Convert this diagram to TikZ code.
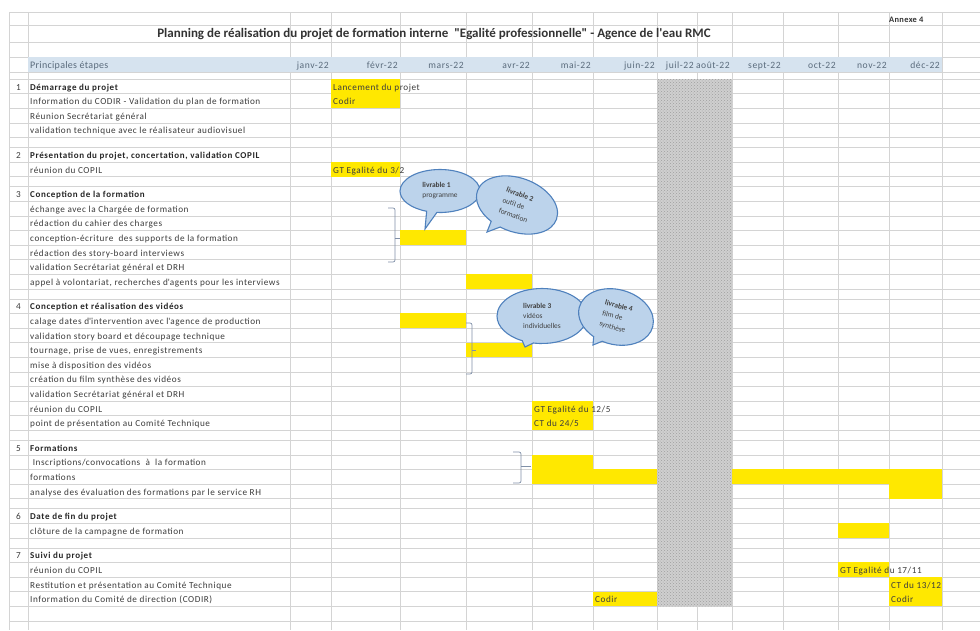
\documentclass[tikz,border=0pt]{standalone}
\usepackage{fontspec}
\setmainfont{Carlito}
\usetikzlibrary{shapes.callouts,patterns}
\definecolor{cellgrid}{HTML}{D4D4D4}
\definecolor{headband}{HTML}{D6E3EF}
\definecolor{headtext}{HTML}{5A6B7C}
\definecolor{baryellow}{HTML}{FFE800}
\definecolor{bubblefill}{HTML}{BCD3EB}
\definecolor{bubbleline}{HTML}{4F81BD}
\definecolor{bracegray}{HTML}{8090A8}
\definecolor{inktext}{HTML}{3C3C3C}

\begin{document}
\begin{tikzpicture}[x=1pt,y=-1pt,
	task/.style={anchor=base west,inner sep=0pt,text=inktext,font=\fontsize{9.2}{10}\selectfont\addfontfeature{LetterSpace=6}},
	phase/.style={task,text=black!85,font=\fontsize{9}{10}\selectfont\bfseries\addfontfeature{LetterSpace=7}},
	month/.style={anchor=base east,inner sep=0pt,text=headtext,font=\fontsize{9.6}{10}\selectfont\addfontfeature{LetterSpace=6}},
	bar/.style={fill=baryellow},
	livrable/.style={ellipse callout,draw=bubbleline,fill=bubblefill,line width=1.1pt,
		inner sep=0pt,align=left,text=black!75,font=\fontsize{7.4}{10}\selectfont},
	brace/.style={draw=bracegray,line width=0.7pt,rounded corners=2pt}]

\useasboundingbox (0,0) rectangle (980,630);
\fill[white] (0,0) rectangle (980,630);

% grid of the sheet
\foreach \y in {12,25,42,57,72,79,93.6,108.2,122.8,137.4,147.4,162,176.6,186.6,201.2,215.8,
	230.4,245,259.6,274.2,288.8,298.8,313.4,328,342.6,357.2,371.8,386.4,401,415.6,430.2,
	440.2,454.8,469.4,484,498.6,508.6,523.2,537.8,547.8,562.4,577,591.6,606.2,620.8}
\draw[cellgrid] (9,\y) -- (980,\y);
\foreach \x in {9,28,290,331,400,466,532,593,657,697,732,783,838,889,942}
\draw[cellgrid] (\x,12) -- (\x,630);

\fill[headband] (28,57) rectangle (942,72);

\node[anchor=base west,inner sep=0pt,text=black!80,font=\fontsize{8.4}{9}\selectfont\bfseries\addfontfeature{LetterSpace=4}] (annexe) at (889,22) {Annexe 4};
\node[inner sep=0pt,text=black!80,font=\fontsize{13}{14}\selectfont\bfseries] (titre) at (434,34)
	{Planning de réalisation du projet de formation interne \ \textquotedbl Egalité professionnelle\textquotedbl{} - Agence de l\textquotesingle eau RMC};

\node[task,text=headtext,font=\fontsize{10}{11}\selectfont\addfontfeature{LetterSpace=3}] (etapes) at (30,68) {Principales étapes};
\foreach \x/\m [count=\i] in {329/janv-22,398/févr-22,464/mars-22,530/avr-22,591/mai-22,655/juin-22,
	694/juil-22,730/août-22,781/sept-22,836/oct-22,887/nov-22,940/déc-22}
\node[month] (mois\i) at (\x,68) {\m};

% bars
\foreach \xa/\xb/\ya/\yb in {331/400/79/93.6,331/400/93.6/108.2,331/400/162/176.6,400/466/230.4/245,
	466/532/274.2/288.8,400/466/313.4/328,466/532/342.6/357.2,532/593/401/415.6,532/593/415.6/430.2,
	532/593/454.8/484,593/657/469.4/484,732/942/469.4/484,889/942/484/498.6,838/889/523.2/537.8,
	838/889/562.4/577,889/942/577/591.6,889/942/591.6/606.2,593/657/591.6/606.2}
\fill[bar] (\xa,\ya) rectangle (\xb,\yb);

\fill[gray!38] (657,79) rectangle (732,606.2);
\fill[pattern=crosshatch dots,pattern color=gray!75] (657,79) rectangle (732,606.2);

\node[task] (lancement) at (333,90.1) {Lancement du projet};
\node[task] (codirA) at (333,104.7) {Codir};
\node[task] (gtA) at (333,173.1) {GT Egalité du 3/2};
\node[task] (gtB) at (534,412.1) {GT Egalité du 12/5};
\node[task] (ctA) at (534,426.7) {CT du 24/5};
\node[task] (gtC) at (840,573.5) {GT Egalité du 17/11};
\node[task] (ctB) at (891,588.1) {CT du 13/12};
\node[task] (codirB) at (891,602.7) {Codir};
\node[task] (codirC) at (595,602.7) {Codir};

% phases and tasks
\foreach \y/\t [count=\i] in {93.6/{Démarrage du projet},162/{Présentation du projet, concertation, validation COPIL},
	201.2/{Conception de la formation},313.4/{Conception et réalisation des vidéos},454.8/{Formations},
	523.2/{Date de fin du projet},562.4/{Suivi du projet}}
{
\node[task,anchor=base] (num\i) at (18.5,\y-3.5) {\i};
\node[phase] (phase\i) at (30,\y-3.5) {\t};
}

\foreach \y/\t [count=\i] in {108.2/{Information du CODIR - Validation du plan de formation},
	122.8/{Réunion Secrétariat général},137.4/{validation technique avec le réalisateur audiovisuel},
	176.6/{réunion du COPIL},215.8/{échange avec la Chargée de formation},230.4/{rédaction du cahier des charges},
	245/{conception-écriture \ des supports de la formation},259.6/{rédaction des story-board interviews},
	274.2/{validation Secrétariat général et DRH},288.8/{appel à volontariat, recherches d\textquotesingle agents pour les interviews},
	328/{calage dates d\textquotesingle intervention avec l\textquotesingle agence de production},342.6/{validation story board et découpage technique},
	357.2/{tournage, prise de vues, enregistrements},371.8/{mise à disposition des vidéos},
	386.4/{création du film synthèse des vidéos},401/{validation Secrétariat général et DRH},
	415.6/{réunion du COPIL},430.2/{point de présentation au Comité Technique},
	469.4/{\ Inscriptions/convocations \ à \ la formation},484/{formations},
	498.6/{analyse des évaluation des formations par le service RH},537.8/{clôture de la campagne de formation},
	577/{réunion du COPIL},591.6/{Restitution et présentation au Comité Technique},
	606.2/{Information du Comité de direction (CODIR)}}
\node[task] (tache\i) at (30,\y-3.5) {\t};

% brackets
\draw[brace] (388,208) -| (395,262) -- (388,262);
\draw[brace] (395,238) -- (400,238);
\draw[brace] (466,323) -| (472,374) -- (466,374);
\draw[brace] (472,350) -- (476,350);
\draw[brace] (513,452) -| (521,483) -- (513,483);
\draw[brace] (521,466) -- (531,466);

% livrables
\coordinate (pointe1) at (425,229);
\coordinate (pointe2) at (487,232);
\coordinate (pointe3) at (525,347);
\coordinate (pointe4) at (593,345);
\node[livrable,minimum width=80pt,minimum height=43pt,callout absolute pointer=(pointe1)] (liv1) at (440,191)
	{\textbf{livrable 1}\\programme};
\node[livrable,minimum width=84pt,minimum height=54pt,rotate=-20,font=\fontsize{7.4}{11}\selectfont,
	callout absolute pointer=(pointe2)] (liv2) at (517,205)
	{\textbf{livrable 2}\\outil de\\formation};
\node[livrable,minimum width=90pt,minimum height=55pt,callout absolute pointer=(pointe3)] (liv3) at (542,316)
	{\textbf{livrable 3}\\vidéos\\individuelles};
\node[livrable,minimum width=76pt,minimum height=55pt,rotate=-15,font=\fontsize{7.4}{11}\selectfont,
	callout absolute pointer=(pointe4)] (liv4) at (616,317)
	{\textbf{livrable 4}\\film de\\synthèse};

\end{tikzpicture}
\end{document}
